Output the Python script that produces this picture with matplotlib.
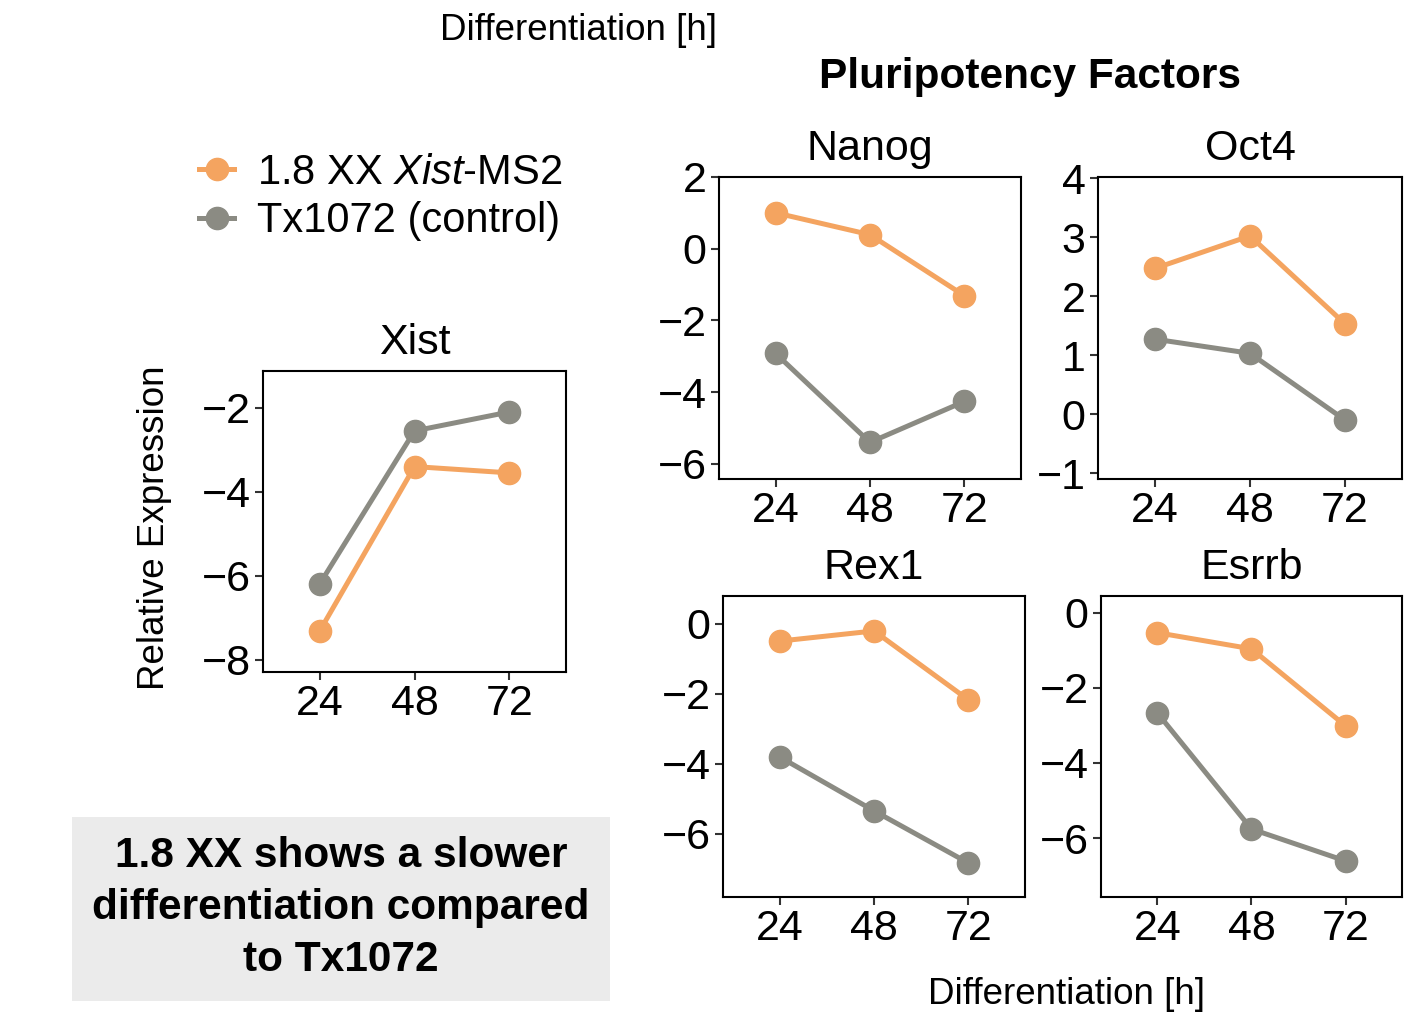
import matplotlib
matplotlib.use("Agg")
import matplotlib.pyplot as plt
from matplotlib.lines import Line2D
from matplotlib.patches import Rectangle

plt.rcParams['font.family'] = ['Liberation Sans', 'DejaVu Sans']
plt.rcParams['mathtext.fontset'] = 'custom'
plt.rcParams['mathtext.rm'] = 'Liberation Sans'
plt.rcParams['mathtext.it'] = 'Liberation Sans:italic'

hours = [24, 48, 72]
xist_ms2 = [-7.31, -3.40, -3.55]
xist_ctrl = [-6.19, -2.55, -2.10]
nanog_ms2 = [1.00, 0.39, -1.31]
nanog_ctrl = [-2.92, -5.40, -4.26]
oct4_ms2 = [2.47, 3.02, 1.53]
oct4_ctrl = [1.27, 1.03, -0.10]
rex1_ms2 = [-0.49, -0.20, -2.17]
rex1_ctrl = [-3.80, -5.34, -6.83]
esrrb_ms2 = [-0.53, -0.96, -3.01]
esrrb_ctrl = [-2.67, -5.76, -6.61]

orange = '#F4A460'
grey = '#8B8B83'

fig = plt.figure(figsize=(14.18, 10.18), dpi=100)

def panel(rect, title, ms2, ctrl, ylim, yticks):
    ax = fig.add_axes(rect)
    ax.plot(hours, ms2, color=orange, lw=3.6, marker='o', ms=16, zorder=3)
    ax.plot(hours, ctrl, color=grey, lw=3.6, marker='o', ms=16, zorder=3)
    ax.set_xlim(9.6, 86.4)
    ax.set_ylim(*ylim)
    ax.set_xticks(hours)
    ax.set_yticks(yticks)
    ax.tick_params(labelsize=31, color='#333333', length=6, width=1.5, pad=3)
    for s in ax.spines.values():
        s.set_linewidth(1.5)
    ax.set_title(title, fontsize=31, pad=12)
    return ax

panel([0.1855, 0.340, 0.2137, 0.2957], 'Xist', xist_ms2, xist_ctrl,
      (-8.29, -1.12), [-8, -6, -4, -2])
panel([0.507, 0.5295, 0.213, 0.2967], 'Nanog', nanog_ms2, nanog_ctrl,
      (-6.42, 2.0), [-6, -4, -2, 0, 2])
panel([0.7743, 0.5295, 0.2144, 0.2967], 'Oct4', oct4_ms2, oct4_ctrl,
      (-1.1, 4.02), [-1, 0, 1, 2, 3, 4])
panel([0.5099, 0.1189, 0.213, 0.2957], 'Rex1', rex1_ms2, rex1_ctrl,
      (-7.8, 0.8), [-6, -4, -2, 0])
panel([0.7764, 0.1189, 0.2123, 0.2957], 'Esrrb', esrrb_ms2, esrrb_ctrl,
      (-7.57, 0.45), [-6, -4, -2, 0])

fig.text(578 / 1418, 1 - 31 / 1018, 'Differentiation [h]', fontsize=26.5,
         ha='center', va='center')
fig.text(1066 / 1418, 1 - 995 / 1018, 'Differentiation [h]', fontsize=26.5,
         ha='center', va='center')
fig.text(1030 / 1418, 1 - 77 / 1018, 'Pluripotency Factors', fontsize=30.5,
         fontweight='bold', ha='center', va='center')
fig.text(155 / 1418, 1 - 528 / 1018, 'Relative Expression', fontsize=26.5,
         rotation=90, ha='center', va='center')

handles = [Line2D([], [], color=orange, lw=3.6, marker='o', ms=16),
           Line2D([], [], color=grey, lw=3.6, marker='o', ms=16)]
labels = ['1.8 XX $\\it{Xist}$-MS2', 'Tx1072 (control)']
fig.legend(handles, labels, loc='center left',
           bbox_to_anchor=(199 / 1418, 1 - 197 / 1018), frameon=False,
           fontsize=30, handlelength=0.85, handletextpad=0.55, labelspacing=0.2,
           borderaxespad=0, borderpad=0)

fig.patches.append(Rectangle((72 / 1418, 1 - 1001 / 1018), 538 / 1418, 184 / 1018,
                             transform=fig.transFigure, facecolor='#EBEBEB',
                             edgecolor='none', zorder=0))
fig.text(341 / 1418, 1 - 908 / 1018,
         '1.8 XX shows a slower\ndifferentiation compared\nto Tx1072',
         fontsize=30.5, fontweight='bold', ha='center', va='center',
         linespacing=1.4)

fig.savefig('out.png', dpi=100)
